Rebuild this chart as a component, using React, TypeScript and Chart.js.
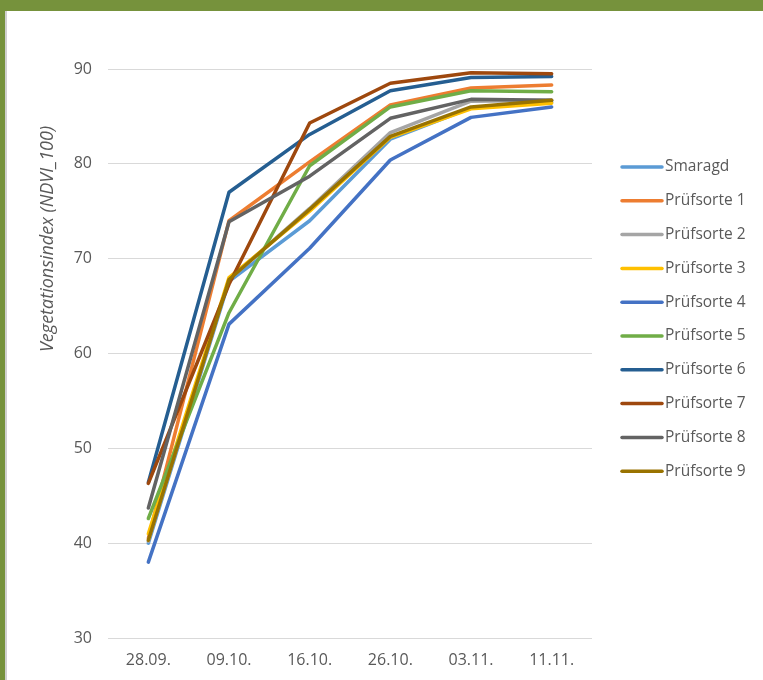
import React, { useEffect, useRef } from "react";
import { Chart, registerables } from "chart.js";

Chart.register(...registerables);

const categories = ["28.09.", "09.10.", "16.10.", "26.10.", "03.11.", "11.11."];
const seriesNames = [
  "Smaragd",
  "Prüfsorte 1",
  "Prüfsorte 2",
  "Prüfsorte 3",
  "Prüfsorte 4",
  "Prüfsorte 5",
  "Prüfsorte 6",
  "Prüfsorte 7",
  "Prüfsorte 8",
  "Prüfsorte 9",
];
const smaragd = [40.0, 67.6, 74.0, 82.6, 85.9, 86.5];
const pruef1 = [40.5, 74.0, 80.2, 86.2, 88.0, 88.3];
const pruef2 = [40.2, 67.8, 75.3, 83.3, 86.6, 86.7];
const pruef3 = [41.0, 68.0, 75.0, 82.8, 85.8, 86.4];
const pruef4 = [38.0, 63.1, 71.1, 80.4, 84.9, 86.0];
const pruef5 = [42.6, 64.3, 79.8, 86.0, 87.7, 87.6];
const pruef6 = [46.4, 77.0, 83.1, 87.7, 89.1, 89.2];
const pruef7 = [46.3, 67.3, 84.3, 88.5, 89.6, 89.5];
const pruef8 = [43.7, 73.9, 78.7, 84.8, 86.8, 86.7];
const pruef9 = [40.3, 67.8, 75.2, 82.9, 86.0, 86.7];
const yTicks = [30, 40, 50, 60, 70, 80, 90];
const yTitle = "Vegetationsindex (NDVI_100)";

const colors = [
  "#5B9BD5",
  "#ED7D31",
  "#A5A5A5",
  "#FFC000",
  "#4472C4",
  "#70AD47",
  "#255E91",
  "#9E480E",
  "#636363",
  "#997300",
];

const FONT = "'Open Sans', sans-serif";
const TEXT = "#595959";

const customPlugin = {
  id: "customLegendTitle",
  afterDraw(chart: any) {
    const ctx = chart.ctx;
    const area = chart.chartArea;
    ctx.save();
    // y axis title
    ctx.fillStyle = TEXT;
    ctx.font = `italic 18px ${FONT}`;
    ctx.textAlign = "center";
    ctx.textBaseline = "middle";
    ctx.translate(area.left - 60, area.top + 170);
    ctx.rotate(-Math.PI / 2);
    ctx.fillText(yTitle, 0, 0);
    ctx.restore();

    // legend
    ctx.save();
    const x0 = area.right + 30;
    const y0 = area.top + 98;
    const step = 33.8;
    chart.data.datasets.forEach((ds: any, i: number) => {
      const y = y0 + i * step;
      ctx.strokeStyle = ds.borderColor;
      ctx.lineWidth = 3.5;
      ctx.lineCap = "round";
      ctx.beginPath();
      ctx.moveTo(x0, y);
      ctx.lineTo(x0 + 40, y);
      ctx.stroke();
      ctx.fillStyle = TEXT;
      ctx.font = `15.5px ${FONT}`;
      ctx.textAlign = "left";
      ctx.textBaseline = "middle";
      ctx.fillText(ds.label, x0 + 43, y);
    });
    ctx.restore();
  },
};

export default function App() {
  const ref = useRef<HTMLCanvasElement | null>(null);

  useEffect(() => {
    document.body.style.margin = "0";
    const values = [smaragd, pruef1, pruef2, pruef3, pruef4, pruef5, pruef6, pruef7, pruef8, pruef9];
    const n = values.length;
    const chart = new Chart(ref.current as HTMLCanvasElement, {
      type: "line",
      data: {
        labels: categories,
        datasets: values.map((v, i) => ({
          label: seriesNames[i],
          data: v,
          borderColor: colors[i],
          backgroundColor: colors[i],
          borderWidth: 3.5,
          pointRadius: 0,
          tension: 0,
          fill: false,
          borderCapStyle: "round" as const,
          borderJoinStyle: "round" as const,
          order: n - i,
        })),
      },
      options: {
        animation: false,
        responsive: false,
        maintainAspectRatio: false,
        layout: { padding: { left: 0, top: 58, right: 171, bottom: 0 } },
        plugins: {
          legend: { display: false },
          tooltip: { enabled: false },
        },
        scales: {
          x: {
            offset: true,
            grid: { display: false, drawTicks: false },
            border: { display: false },
            ticks: { color: TEXT, font: { family: FONT, size: 16 }, padding: 13, maxRotation: 0 },
            afterFit: (s: any) => {
              s.height = 42;
            },
          },
          y: {
            min: 30,
            max: 90,
            grid: { color: "#D9D9D9", lineWidth: 1, drawTicks: false },
            border: { display: false },
            ticks: {
              color: TEXT,
              font: { family: FONT, size: 16 },
              padding: 16,
              stepSize: 10,
              callback: (v: any) => (yTicks.includes(Number(v)) ? String(v) : ""),
            },
            afterFit: (s: any) => {
              s.width = 101;
            },
          },
        },
      },
      plugins: [customPlugin],
    });
    return () => chart.destroy();
  }, []);

  return (
    <div
      style={{
        position: "absolute",
        left: 0,
        top: 0,
        width: 763,
        height: 680,
        background: "#76923C",
        overflow: "hidden",
      }}
    >
      <div
        style={{
          position: "absolute",
          left: 5,
          top: 11,
          width: 2,
          height: 669,
          background: "#D0D0D0",
        }}
      />
      <div
        style={{
          position: "absolute",
          left: 7,
          top: 11,
          width: 756,
          height: 669,
          background: "#FFFFFF",
        }}
      >
        <canvas ref={ref} width={756} height={669} style={{ display: "block" }} />
      </div>
    </div>
  );
}
